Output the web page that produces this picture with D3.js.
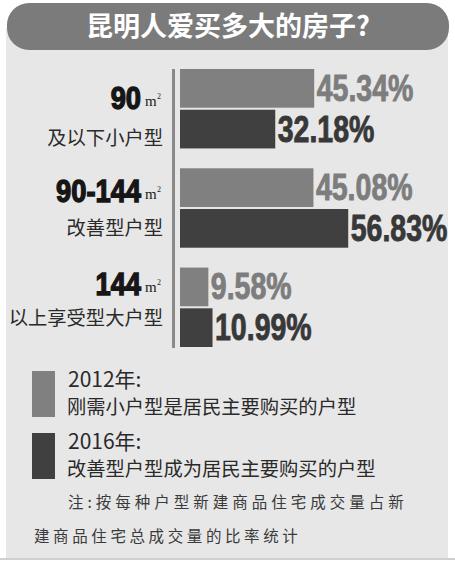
<!DOCTYPE html>
<html><head><meta charset="utf-8">
<script src="https://cdn.jsdelivr.net/npm/d3@7/dist/d3.min.js"></script>
<style>
html,body{margin:0;padding:0;background:#fff;}
svg{display:block;}
</style></head>
<body>
<svg id="c" width="455" height="565"></svg>
<script>
const title = "昆明人爱买多大的房子?";
const categories = ["90", "90-144", "144"];
const catUnit = "m";
const catDesc = ["及以下小户型", "改善型户型", "以上享受型大户型"];
const seriesNames = ["2012", "2016"];
const values2012 = [45.34, 45.08, 9.58];
const values2016 = [32.18, 56.83, 10.99];
const legendYears = ["2012年:", "2016年:"];
const legendDesc = ["刚需小户型是居民主要购买的户型", "改善型户型成为居民主要购买的户型"];
const noteLines = ["注:按每种户型新建商品住宅成交量占新", "建商品住宅总成交量的比率统计"];

const colors = {"2012": "#808080", "2016": "#404040"};
const labelColors = {"2012": "#7d7d7d", "2016": "#383838"};
const CJK = "'Noto Sans CJK SC','Noto Sans',sans-serif";
const BOLD = "'Liberation Sans',Arial,sans-serif";

const svg = d3.select("#c");

// background panel
svg.append("rect").attr("x", 0).attr("y", 558).attr("width", 455).attr("height", 2).attr("fill", "#cfcfcf");
svg.append("rect").attr("x", 6).attr("y", 28).attr("width", 442).attr("height", 530).attr("fill", "#e7e7e7");

// title pill
svg.append("rect").attr("x", 7).attr("y", 3).attr("width", 442).attr("height", 47)
  .attr("rx", 22).attr("ry", 22).attr("fill", "#7b7b7b");
svg.append("text").attr("x", 228).attr("y", 36).attr("text-anchor", "middle")
  .attr("font-family", CJK).attr("font-weight", 700).attr("font-size", 27)
  .attr("fill", "#fff").text(title);

// scales
const y = d3.scaleBand().domain(categories).range([69, 347]).paddingInner(0.2).paddingOuter(0);
const ySub = d3.scaleBand().domain(seriesNames).range([0, y.bandwidth()]).paddingInner(0.05);
const x = d3.scaleLinear().domain([0, 60]).range([180, 357.6]);
const yNum = d3.scalePoint().domain(categories).range([109, 295]);
const yDesc = d3.scalePoint().domain(categories).range([145, 325]);

// axis line
svg.append("rect").attr("x", 172).attr("y", y.range()[0]).attr("width", 3)
  .attr("height", y.range()[1] - y.range()[0] + 1).attr("fill", "#8a8a8a");

const rows = categories.map((c, i) => ({cat: c, vals: [
  {s: "2012", v: values2012[i]}, {s: "2016", v: values2016[i]}]}));

const g = svg.selectAll("g.grp").data(rows).join("g").attr("class", "grp")
  .attr("transform", d => `translate(0,${y(d.cat)})`);

g.selectAll("rect.bar").data(d => d.vals).join("rect").attr("class", "bar")
  .attr("x", x(0)).attr("y", d => ySub(d.s))
  .attr("width", d => x(d.v) - x(0)).attr("height", ySub.bandwidth())
  .attr("fill", d => colors[d.s]);

g.selectAll("text.val").data(d => d.vals).join("text").attr("class", "val")
  .attr("transform", d => `translate(${x(d.v) + 2.5},${ySub(d.s) + ySub.bandwidth() / 2 + 12.5}) scale(0.77,1)`)
  .attr("font-family", BOLD).attr("font-weight", 700).attr("font-size", 37)
  .attr("fill", d => labelColors[d.s])
  .attr("stroke", d => labelColors[d.s]).attr("stroke-width", 0.9)
  .text(d => d.v.toFixed(2) + "%");

// left category labels
categories.forEach((c, i) => {
  const by = yNum(c);
  svg.append("text")
    .attr("transform", `translate(141,${by}) scale(0.88,1)`)
    .attr("text-anchor", "end")
    .attr("font-family", BOLD).attr("font-weight", 700).attr("font-size", 31)
    .attr("fill", "#161616").attr("stroke", "#161616").attr("stroke-width", 1.4)
    .text(c);
  svg.append("text").attr("x", 145).attr("y", by - 3)
    .attr("font-family", "'Liberation Serif',serif").attr("font-size", 15)
    .attr("fill", "#222").text(catUnit);
  svg.append("text").attr("x", 157).attr("y", by - 10)
    .attr("font-family", "'Liberation Serif',serif").attr("font-size", 8)
    .attr("fill", "#222").text("2");
  svg.append("text").attr("x", 163).attr("y", yDesc(c)).attr("text-anchor", "end")
    .attr("font-family", CJK).attr("font-size", 19.3).attr("fill", "#2a2a2a")
    .text(catDesc[i]);
});

// legend
const legY = d3.scalePoint().domain(seriesNames).range([371, 433]);
seriesNames.forEach((s, i) => {
  const ly = legY(s);
  svg.append("rect").attr("x", 32).attr("y", ly).attr("width", 23).attr("height", 46)
    .attr("fill", colors[s]);
  svg.append("text").attr("x", 68).attr("y", ly + 16)
    .attr("font-family", CJK).attr("font-size", 21).attr("fill", "#2a2a2a")
    .text(legendYears[i]);
  svg.append("text").attr("x", 67).attr("y", ly + 43)
    .attr("font-family", CJK).attr("font-size", 19.3).attr("fill", "#2a2a2a")
    .text(legendDesc[i]);
});

// note
svg.append("text").attr("x", 68).attr("y", 508)
  .attr("font-family", CJK).attr("font-size", 15.5).attr("letter-spacing", 4)
  .attr("fill", "#3a3a3a").text(noteLines[0]);
svg.append("text").attr("x", 34).attr("y", 542)
  .attr("font-family", CJK).attr("font-size", 15.5).attr("letter-spacing", 3.6)
  .attr("fill", "#3a3a3a").text(noteLines[1]);
</script>
</body></html>
